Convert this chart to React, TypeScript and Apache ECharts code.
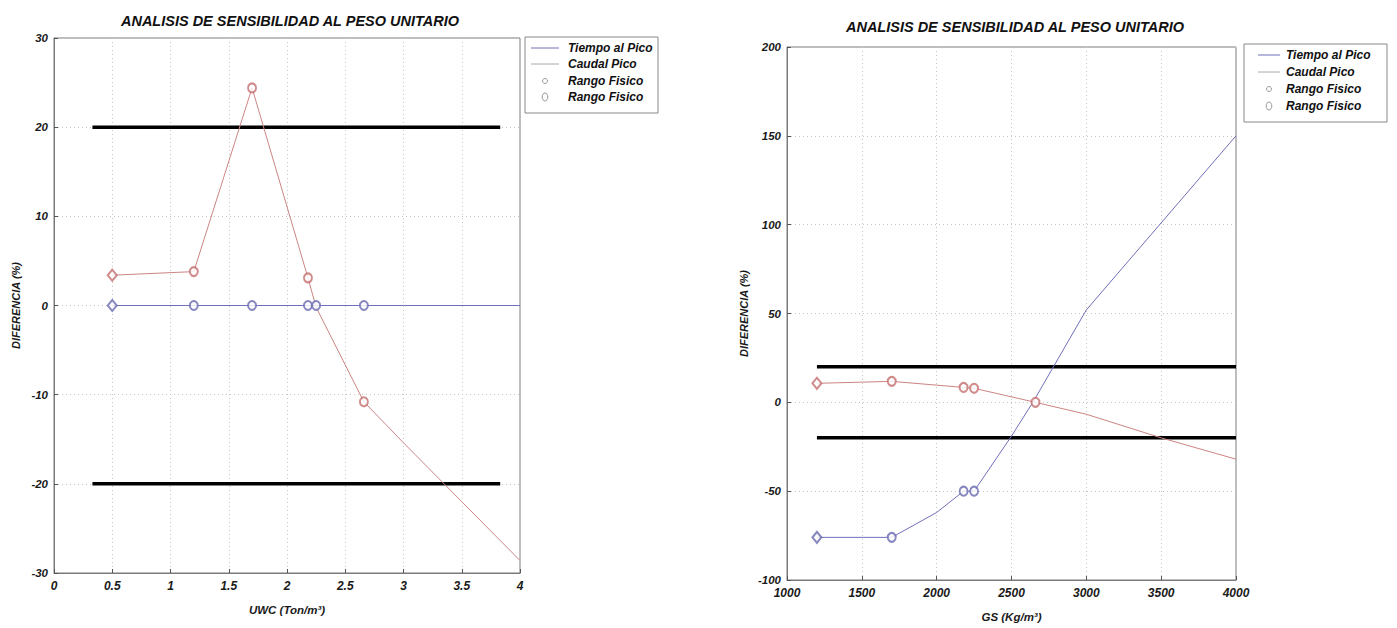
import React, { useEffect, useRef } from "react";
import * as echarts from "echarts";

// ---- Left chart (UWC) ----
const uwcLineX = [0.5, 1.2, 1.7, 2.18, 2.25, 2.66, 3.0, 4.0];
const uwcTiempo = [0, 0, 0, 0, 0, 0, 0, 0];
const uwcCaudal = [3.4, 3.8, 24.4, 3.1, -0.2, -10.8, -15.4, -28.6];
const uwcRangoTiempoX = [0.5, 1.2, 1.7, 2.18, 2.25, 2.66];
const uwcRangoTiempo = [0, 0, 0, 0, 0, 0];
const uwcRangoCaudalX = [0.5, 1.2, 1.7, 2.18, 2.66];
const uwcRangoCaudal = [3.4, 3.8, 24.4, 3.1, -10.8];
const uwcLimitX = [0.33, 3.83];

// ---- Right chart (GS) ----
const gsTiempoX = [1200, 1700, 2000, 2180, 2250, 2500, 2650, 2780, 3000, 4000];
const gsTiempo = [-76, -76, -62, -50, -50, -19, 1, 20, 52, 150];
const gsCaudalX = [1200, 1700, 2180, 2250, 2660, 3000, 3500, 4000];
const gsCaudal = [10.7, 11.8, 8.4, 7.9, 0, -6.7, -20, -32];
const gsRangoTiempoX = [1200, 1700, 2180, 2250];
const gsRangoTiempo = [-76, -76, -50, -50];
const gsRangoCaudalX = [1200, 1700, 2180, 2250, 2660];
const gsRangoCaudal = [10.7, 11.8, 8.4, 7.9, 0];
const gsLimitX = [1200, 4000];

const limitsY = [20, -20];

const titleText = "ANALISIS DE SENSIBILIDAD AL PESO UNITARIO";
const yName = "DIFERENCIA (%)";
const uwcName = "UWC (Ton/m³)";
const gsName = "GS (Kg/m³)";
const legendNames = ["Tiempo al Pico", "Caudal Pico", "Rango Fisico", "Rango Fisico"];

const FONT = "Liberation Sans, Arial, sans-serif";
const BLUE = "#7070bb";
const RED = "#cc8484";
const BLUE_M = "#6a6ab0";
const RED_M = "#c46e6e";

const zip = (xs: number[], ys: number[]) => xs.map((x, i) => [x, ys[i]]);

const txt = { fontFamily: FONT, fontWeight: "bold" as const, fontStyle: "italic" as const, color: "#1a1a1a" };

function makeX(idx: number, min: number, max: number, interval: number, name: string, gap: number) {
  return {
    type: "value",
    gridIndex: idx,
    min,
    max,
    interval,
    name,
    nameLocation: "middle",
    nameGap: gap,
    nameTextStyle: { ...txt, fontSize: 11.5 },
    axisLine: { show: true, onZero: false, lineStyle: { color: "#7a7a7a" } },
    axisTick: { show: true, inside: true, length: 4, lineStyle: { color: "#555" } },
    axisLabel: { ...txt, fontSize: 12, margin: 7, formatter: (v: number) => String(v) },
    splitLine: { show: true, lineStyle: { color: "#c4c4c4", type: [1, 3] } },
  };
}

function makeY(idx: number, min: number, max: number, interval: number, gap: number) {
  return {
    type: "value",
    gridIndex: idx,
    min,
    max,
    interval,
    name: yName,
    nameLocation: "middle",
    nameGap: gap,
    nameRotate: 90,
    nameTextStyle: { ...txt, fontSize: 11 },
    axisLine: { show: true, onZero: false, lineStyle: { color: "#7a7a7a" } },
    axisTick: { show: true, inside: true, length: 4, lineStyle: { color: "#555" } },
    axisLabel: { ...txt, fontSize: 11.5, margin: 6, formatter: (v: number) => String(v) },
    splitLine: { show: true, lineStyle: { color: "#c4c4c4", type: [1, 3] } },
  };
}

function lineSeries(idx: number, data: number[][], color: string, width = 1, z = 3) {
  return {
    type: "line",
    xAxisIndex: idx,
    yAxisIndex: idx,
    data,
    showSymbol: false,
    symbol: "none",
    lineStyle: { color, width },
    z,
    silent: true,
  };
}

function markerSeries(idx: number, data: number[][], color: string) {
  return {
    type: "scatter",
    xAxisIndex: idx,
    yAxisIndex: idx,
    data: data.map((d, i) => ({
      value: d,
      symbol: i === 0 ? "emptyDiamond" : "emptyCircle",
      symbolSize: i === 0 ? [9, 11] : [8, 9],
    })),
    itemStyle: { color, borderColor: color, borderWidth: 0.8 },
    z: 5,
    silent: true,
  };
}

function legendGraphic(x: number, y: number, w: number, h: number, rows: number[], lineX0: number, lineX1: number, textX: number) {
  const els: any[] = [
    { type: "rect", shape: { x, y, width: w, height: h }, style: { fill: "#fff", stroke: "#888", lineWidth: 1 } },
    { type: "line", shape: { x1: lineX0, y1: rows[0], x2: lineX1, y2: rows[0] }, style: { stroke: BLUE, lineWidth: 1 } },
    { type: "line", shape: { x1: lineX0, y1: rows[1], x2: lineX1, y2: rows[1] }, style: { stroke: "#a8a8a8", lineWidth: 1 } },
    { type: "circle", shape: { cx: (lineX0 + lineX1) / 2, cy: rows[2], r: 2.5 }, style: { fill: "#fff", stroke: "#999", lineWidth: 1 } },
    { type: "ellipse", shape: { cx: (lineX0 + lineX1) / 2, cy: rows[3], rx: 2.8, ry: 4 }, style: { fill: "#fff", stroke: "#999", lineWidth: 1 } },
  ];
  legendNames.forEach((n, i) => {
    els.push({
      type: "text",
      x: textX,
      y: rows[i],
      style: {
        text: n,
        fill: "#111",
        font: `italic bold 12px ${FONT}`,
        textVerticalAlign: "middle",
        verticalAlign: "middle",
      },
    });
  });
  return els;
}

export default function App() {
  const ref = useRef<HTMLDivElement>(null);
  useEffect(() => {
    if (!ref.current) return;
    const chart = echarts.init(ref.current, null, { renderer: "svg" });
    const option: any = {
      animation: false,
      backgroundColor: "#fff",
      title: [
        { text: titleText, left: 285, top: 8, textAlign: "center", textStyle: { ...txt, fontSize: 14.5, color: "#111" } },
        { text: titleText, left: 1010, top: 14, textAlign: "center", textStyle: { ...txt, fontSize: 14.5, color: "#111" } },
      ],
      grid: [
        { left: 54, top: 38, width: 466, height: 535, show: true, borderColor: "#7a7a7a", borderWidth: 1, backgroundColor: "#fff" },
        { left: 787, top: 47, width: 449, height: 534, show: true, borderColor: "#7a7a7a", borderWidth: 1, backgroundColor: "#fff" },
      ],
      xAxis: [makeX(0, 0, 4, 0.5, uwcName, 31), makeX(1, 1000, 4000, 500, gsName, 31)],
      yAxis: [makeY(0, -30, 30, 10, 33), makeY(1, -100, 200, 50, 38)],
      series: [
        lineSeries(0, zip(uwcLimitX, [limitsY[0], limitsY[0]]), "#000", 3.5, 2),
        lineSeries(0, zip(uwcLimitX, [limitsY[1], limitsY[1]]), "#000", 3.5, 2),
        lineSeries(0, zip(uwcLineX, uwcTiempo), BLUE),
        lineSeries(0, zip(uwcLineX, uwcCaudal), RED),
        markerSeries(0, zip(uwcRangoTiempoX, uwcRangoTiempo), BLUE_M),
        markerSeries(0, zip(uwcRangoCaudalX, uwcRangoCaudal), RED_M),
        lineSeries(1, zip(gsLimitX, [limitsY[0], limitsY[0]]), "#000", 3.5, 2),
        lineSeries(1, zip(gsLimitX, [limitsY[1], limitsY[1]]), "#000", 3.5, 2),
        lineSeries(1, zip(gsTiempoX, gsTiempo), BLUE),
        lineSeries(1, zip(gsCaudalX, gsCaudal), RED),
        markerSeries(1, zip(gsRangoTiempoX, gsRangoTiempo), BLUE_M),
        markerSeries(1, zip(gsRangoCaudalX, gsRangoCaudal), RED_M),
      ],
      graphic: [
        ...legendGraphic(525, 37, 133, 76, [48, 64, 81, 97], 531, 559, 568),
        ...legendGraphic(1244, 44, 143, 78, [55, 72, 89, 106], 1258, 1280, 1286),
      ],
    };
    chart.setOption(option);
    return () => chart.dispose();
  }, []);
  return (
    <div
      ref={ref}
      style={{ position: "fixed", left: 0, top: 0, width: 1397, height: 628, background: "#fff" }}
    />
  );
}
